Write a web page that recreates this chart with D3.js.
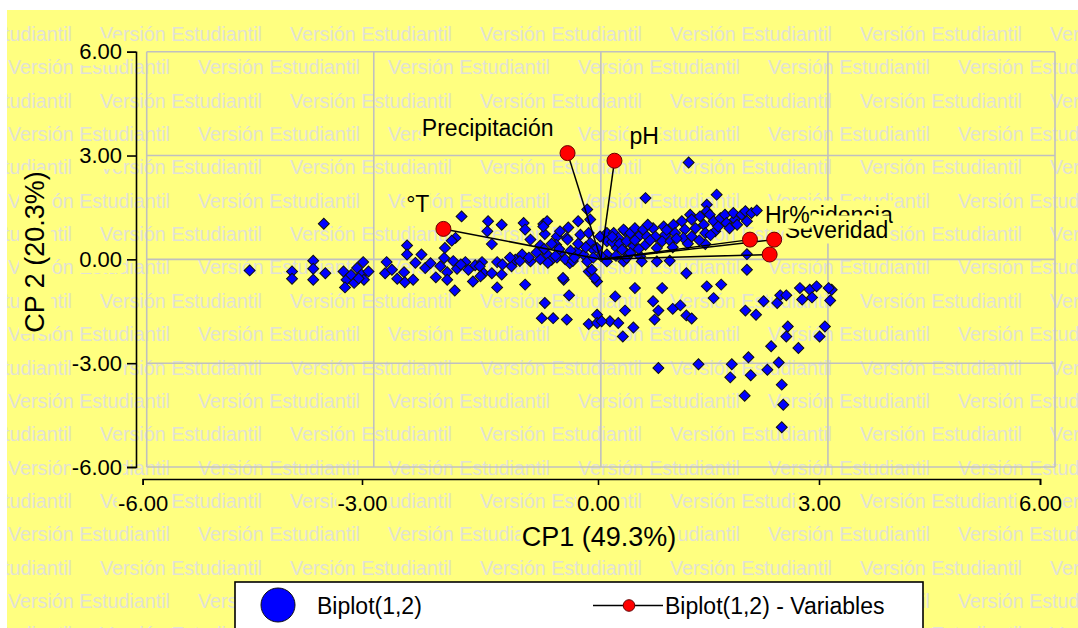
<!DOCTYPE html>
<html><head><meta charset="utf-8">
<script src="https://cdn.jsdelivr.net/npm/d3@7"></script>
<style>html,body{margin:0;padding:0;background:#fff;overflow:hidden}</style>
</head><body>
<svg id="c" width="1078" height="628"></svg>
<script>
// ---------------- data ----------------
// observation scores (CP1, CP2)
const cp1 = [
 -4.64,-4.08,-4.08,-3.80,-3.80,-3.80,-3.64,-3.66,-3.40,-3.36,-3.38,-3.26,-3.22,-3.14,-3.16,-3.07,-3.13,-3.30,-3.20,
 -2.83,-2.85,-2.76,-2.69,-2.60,-2.59,-2.48,-2.56,-2.56,-2.37,-2.32,-2.25,-2.18,-2.12,-2.07,-2.06,-2.03,-2.03,
 -1.92,-1.97,-1.93,-1.90,-1.84,-1.79,-1.75,-1.69,-1.66,-1.57,-1.55,-1.49,-1.50,-1.44,-1.44,-1.37,-1.37,-1.31,-1.31,
 -1.18,-1.13,-1.02,-1.00,-1.04,-0.93,-0.93,-0.80,-0.76,-0.71,-0.74,-0.71,-0.65,-0.74,-0.78,-0.63,-0.58,-0.54,-0.49,
 -0.43,-0.45,-0.41,-0.42,-0.45,-0.30,-0.27,-0.23,-0.18,-0.16,-0.12,-0.05,-0.16,-0.05,-0.05,0.19,
 -2.45,-1.95,-1.85,-1.60,-1.30,-1.20,-1.07,-0.80,-0.70,-0.58,-0.47,-0.37,-1.59,-1.00,-0.76,-0.54,-0.59,-0.44,
 -0.18,-0.14,-0.16,-0.14,-0.32,-0.10,-0.01,0.08,0.17,0.23,0.32,0.21,0.08,0.08,-0.05,-0.08,0.32,0.30,0.08,-0.50,
 0.00,-0.10,0.15,0.20,-0.20,0.25,-0.30,-0.75,-0.65,-0.55,-0.40,-0.35,-0.60,-0.85,-0.95,
 1.16,0.59,1.53,1.40,1.40,1.18,
 0.30,0.39,0.34,0.45,0.50,0.43,0.56,0.61,0.59,0.69,0.72,0.74,0.83,0.85,0.81,0.96,0.98,0.92,1.07,1.11,1.09,
 1.20,1.25,1.20,1.31,1.36,1.38,1.44,1.49,1.51,1.58,1.64,1.66,1.77,1.75,1.86,1.91,1.93,1.99,2.06,1.38,
 0.28,0.52,0.74,0.91,0.54,0.34,0.39,1.93,1.93,1.13,
 0.65,0.95,1.00,1.30,1.55,1.70,1.15,0.50,0.15,0.45,1.80,1.45,0.87,0.62,
 0.45,0.81,1.40,0.69,0.76,0.71,0.32,0.43,0.29,0.12,0.23,0.01,0.95,1.05,1.13,1.20,
 1.59,1.49,1.91,2.05,2.15,2.33,2.37,2.45,2.63,2.66,2.76,2.85,2.79,3.03,3.05,3.01,2.47,2.45,2.96,2.89,2.25,2.61,
 0.76,1.29,1.73,1.71,1.95,1.98,2.20,2.35,2.39,1.90,2.41,2.39
];
const cp2 = [
 -0.32,-0.35,-0.56,-0.04,-0.27,-0.59,-0.40,1.03,-0.35,-0.59,-0.81,-0.68,-0.25,-0.08,-0.44,-0.35,-0.59,-0.45,-0.55,
 -0.08,-0.40,-0.30,-0.56,-0.37,-0.66,-0.59,0.40,0.14,0.14,-0.25,-0.11,-0.52,-0.20,0.04,0.33,-0.37,-0.59,
 0.62,0.54,-0.90,-0.27,1.24,-0.08,-0.30,-0.64,-0.17,-0.08,-0.40,1.10,0.81,0.44,-0.40,-0.08,-0.81,1.00,-0.44,
 -0.20,-0.01,1.05,-0.73,0.14,0.57,-0.06,0.40,1.02,1.10,0.73,0.15,-0.01,-1.26,-1.70,-1.70,0.66,0.18,-0.59,
 0.92,0.62,-0.11,-1.04,-1.74,1.10,0.71,0.14,-0.06,-0.35,-0.30,-0.64,-1.87,-1.60,-1.84,-1.07,
 -0.10,-0.05,-0.15,-0.20,-0.15,0.05,-0.05,0.00,-0.10,0.05,0.00,-0.05,-0.49,0.86,0.95,0.81,0.42,0.57,
 1.44,1.15,0.76,0.47,0.23,0.28,0.66,0.76,0.76,0.62,0.81,0.33,0.52,0.14,0.33,-0.54,0.23,-0.06,-0.06,-0.54,
 0.10,0.05,0.50,0.10,0.35,0.45,0.45,0.30,0.45,0.30,0.25,0.05,0.10,0.20,0.05,
 2.80,1.77,1.87,1.58,1.39,1.29,
 0.86,0.76,0.52,0.90,0.66,0.38,0.86,0.66,0.42,0.90,0.66,0.33,0.95,0.71,0.52,1.00,0.76,0.52,1.10,0.86,0.62,
 1.15,0.90,0.66,1.24,1.00,0.76,1.29,1.10,0.81,1.19,1.29,1.05,1.15,1.34,1.29,1.39,1.10,1.34,1.41,0.44,
 0.28,0.09,-0.06,-0.04,-0.06,0.04,0.18,0.15,-0.30,-0.40,
 0.55,0.35,0.60,0.55,0.95,0.90,0.45,0.30,0.65,0.55,1.00,0.70,0.85,1.00,
 -0.83,-0.83,-0.78,-1.21,-1.48,-1.74,-1.48,-1.97,-2.23,-1.79,-1.84,-1.79,-1.43,-1.33,-1.62,-1.71,
 -0.73,-1.12,-1.48,-1.60,-1.21,-1.26,-1.04,-1.04,-0.83,-1.16,-0.88,-0.78,-1.10,-1.19,-0.88,-0.83,-1.94,-2.23,-1.94,-2.23,-2.51,-2.56,
 -3.14,-3.03,-3.03,-3.41,-2.83,-3.35,-3.19,-2.98,-3.62,-3.94,-4.20,-4.85
];
// variable vectors (drawing order matters for label overlap)
const varNames = ["°T", "Precipitación", "pH", "Incidencia", "Severidad", "Hr%"];
const varX = [-2.08, -0.44, 0.18, 2.29, 2.23, 1.97];
const varY = [0.88, 3.07, 2.85, 0.57, 0.14, 0.57];
const tickValues = [-6, -3, 0, 3, 6];
const xTitle = "CP1 (49.3%)";
const yTitle = "CP 2 (20.3%)";
const legendLabels = ["Biplot(1,2)", "Biplot(1,2) - Variables"];
const watermark = "Versión Estudiantil";

// ---------------- drawing ----------------
const W = 1078, H = 628;
const YEL = "#ffff80", FONT = "'Liberation Sans', Arial, sans-serif";
const svg = d3.select("#c").style("font-family", FONT);

svg.append("rect").attr("width", W).attr("height", H).attr("fill", "#fff");
svg.append("rect").attr("x", 7).attr("y", 10).attr("width", W - 7).attr("height", H - 10).attr("fill", YEL);
svg.append("clipPath").attr("id", "clipY").append("rect")
  .attr("x", 7).attr("y", 10).attr("width", W - 7).attr("height", H - 10);

// watermark rows
const wm = svg.append("g").attr("clip-path", "url(#clipY)")
  .attr("fill", "#e2e2d6").attr("font-size", 19.7);
for (let k = 0; k < 19; k++) {
  const yy = 34 + 33.35 * k;
  const x0 = (k % 2 === 0) ? -90 : 8;
  for (let xx = x0; xx < W; xx += 190) {
    wm.append("text").attr("x", xx).attr("y", yy + 7).text(watermark);
  }
}

const x = d3.scaleLinear().domain([-6, 6]).range([146.7, 1055]);
const y = d3.scaleLinear().domain([-6, 6]).range([467, 51.7]);
const xAxisScale = d3.scaleLinear().domain([-6, -3, 0, 3, 6]).range([142.7, 362, 598, 819, 1040]);

// grid
const grid = svg.append("g").attr("stroke", "#c0c0c0").attr("stroke-width", 1.6);
tickValues.forEach(v => {
  grid.append("line").attr("x1", x(v)).attr("x2", x(v)).attr("y1", y(-6)).attr("y2", y(6));
  grid.append("line").attr("y1", y(v)).attr("y2", y(v)).attr("x1", x(-6)).attr("x2", x(6));
});

function boxBehind(textSel, pad) {
  textSel.each(function () {
    const b = this.getBBox();
    d3.select(this.parentNode).insert("rect", () => this)
      .attr("x", b.x - pad).attr("y", b.y - pad)
      .attr("width", b.width + 2 * pad).attr("height", b.height + 2 * pad)
      .attr("fill", YEL);
  });
}

// axes
const fmt = d => d.toFixed(2);
const gy = svg.append("g").attr("transform", "translate(136,0)")
  .call(d3.axisLeft(y).tickValues(tickValues).tickFormat(fmt).tickSize(9).tickPadding(5));
const gx = svg.append("g").attr("transform", "translate(0,479)")
  .call(d3.axisBottom(xAxisScale).tickValues(tickValues).tickFormat(fmt).tickSize(6).tickPadding(10));
[gx, gy].forEach(g => {
  g.attr("font-family", FONT).attr("font-size", 22);
  g.selectAll("path,line").attr("stroke", "#000").attr("stroke-width", 1.6);
  g.selectAll("text").attr("fill", "#000");
  boxBehind(g.selectAll("text"), 1);
});

// axis titles
const tg = svg.append("g");
const xt = tg.append("g").append("text").attr("x", 599).attr("y", 546).attr("text-anchor", "middle")
  .attr("font-size", 27).text(xTitle);
const yt = tg.append("g").attr("transform", "translate(44,252) rotate(-90)").append("text")
  .attr("text-anchor", "middle").attr("font-size", 27).text(yTitle);
boxBehind(xt, 1); boxBehind(yt, 1);

// observation points
const sym = d3.symbol().type(d3.symbolSquare).size(60);
svg.append("g").selectAll("path").data(d3.range(cp1.length)).join("path")
  .attr("transform", i => `translate(${x(cp1[i])},${y(cp2[i])}) rotate(45)`)
  .attr("d", sym).attr("fill", "#0000ff").attr("stroke", "#101010").attr("stroke-width", 1);

// variable vectors
const vg = svg.append("g");
vg.selectAll("line").data(d3.range(varNames.length)).join("line")
  .attr("x1", x(0)).attr("y1", y(0)).attr("x2", i => x(varX[i])).attr("y2", i => y(varY[i]))
  .attr("stroke", "#000").attr("stroke-width", 1.5);
vg.selectAll("circle").data(d3.range(varNames.length)).join("circle")
  .attr("cx", i => x(varX[i])).attr("cy", i => y(varY[i])).attr("r", 7.5)
  .attr("fill", "#ff0000").attr("stroke", "#600").attr("stroke-width", 1);
d3.range(varNames.length).forEach(i => {
  const g = svg.append("g");
  const neg = varX[i] < 0;
  const t = g.append("text")
    .attr("x", x(varX[i]) + (neg ? -14 : 15)).attr("y", y(varY[i]) - 17)
    .attr("text-anchor", neg ? "end" : "start").attr("font-size", 23).text(varNames[i]);
  boxBehind(t, 1);
});

// legend
const lg = svg.append("g");
lg.append("rect").attr("x", 235).attr("y", 582).attr("width", 688).attr("height", 80)
  .attr("fill", "#fff").attr("stroke", "#000").attr("stroke-width", 1.6);
lg.append("circle").attr("cx", 278).attr("cy", 605).attr("r", 17)
  .attr("fill", "#0000ff").attr("stroke", "#101010").attr("stroke-width", 1);
lg.append("text").attr("x", 317).attr("y", 614).attr("font-size", 23).text(legendLabels[0]);
lg.append("line").attr("x1", 593).attr("x2", 663).attr("y1", 605.5).attr("y2", 605.5)
  .attr("stroke", "#000").attr("stroke-width", 1.5);
lg.append("circle").attr("cx", 629).attr("cy", 605.5).attr("r", 5.8)
  .attr("fill", "#ff0000").attr("stroke", "#600").attr("stroke-width", 1);
lg.append("text").attr("x", 665).attr("y", 614).attr("font-size", 23).text(legendLabels[1]);
</script>
</body></html>
